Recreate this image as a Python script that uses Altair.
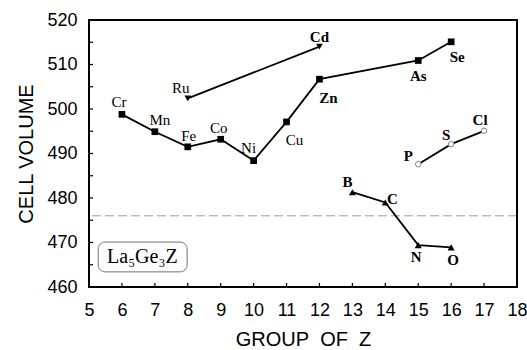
import altair as alt
import pandas as pd

# Cell volumes of La5Ge3Z phases, by periodic-table group of Z
elements = ["Cr", "Mn", "Fe", "Co", "Ni", "Cu", "Zn", "As", "Se",
            "Ru", "Cd",
            "P", "S", "Cl",
            "B", "C", "N", "O"]
groups = [6, 7, 8, 9, 10, 11, 12, 15, 16,
          8, 12,
          15, 16, 17,
          13, 14, 15, 16]
volumes = [498.8, 494.9, 491.5, 493.2, 488.4, 497.1, 506.7, 510.9, 515.1,
           502.4, 514.0,
           487.6, 492.1, 495.1,
           481.3, 479.0, 469.4, 468.9]
series = (["Cr-Se"] * 9 + ["Ru-Cd"] * 2 + ["P-Cl"] * 3 + ["B-O"] * 4)

# horizontal reference level
ref_volume = [476]

# axis tick positions
x_ticks = list(range(5, 19))
y_labels = list(range(460, 521, 10))
y_ticks = list(range(460, 521, 5))

# formula box (data units)
box_x = [5.28]
box_x2 = [7.98]
box_y = [463.4]
box_y2 = [470.1]
box_label = ["La\u2085Ge\u2083Z"]
box_text_x = [6.62]
box_text_y = [466.7]

df = pd.DataFrame({"element": elements, "group": groups,
                   "volume": volumes, "series": series})

W, H = 428, 267

x_scale = alt.Scale(domain=[5, 18], nice=False)
y_scale = alt.Scale(domain=[460, 520], nice=False, zero=False)

x_axis = alt.Axis(values=x_ticks, title="GROUP\u00a0 OF\u00a0 Z", ticks=False,
                  domain=False, grid=False, labelFontSize=18,
                  labelFont="Liberation Sans", labelColor="black",
                  labelPadding=14, titleFont="Liberation Sans",
                  titleFontSize=20, titleFontWeight="normal",
                  titleColor="black", titlePadding=10, labelFlush=False)
y_axis = alt.Axis(values=y_labels, title="CELL VOLUME", ticks=False,
                  domain=False, grid=False, labelFontSize=18,
                  labelFont="Liberation Sans", labelColor="black",
                  labelPadding=12, titleFont="Liberation Sans",
                  titleFontSize=20, titleFontWeight="normal",
                  titleColor="black", titlePadding=10, labelFlush=False)

X = alt.X("group:Q", scale=x_scale, axis=x_axis)
Y = alt.Y("volume:Q", scale=y_scale, axis=y_axis)

# label placement around each marker (pixel offsets) and weight
label_style = {
    "Cr": (-3, -12, "normal"), "Mn": (5, -12, "normal"), "Fe": (1, -11, "normal"),
    "Co": (-2, -11, "normal"), "Ni": (-5, -13, "normal"), "Cu": (8, 18, "normal"),
    "Ru": (-7, -10, "normal"), "Cd": (0, -10, "bold"), "Zn": (9, 19, "bold"),
    "As": (0, 16, "bold"), "Se": (6, 15, "bold"), "P": (-10, -8, "bold"),
    "S": (-5, -9, "bold"), "Cl": (-4, -11, "bold"), "B": (-5, -10, "bold"),
    "C": (7, -3, "bold"), "N": (-2, 12, "bold"), "O": (2, 13, "bold"),
}

base = alt.Chart(df)

# inward tick marks
x_tick_marks = alt.Chart(pd.DataFrame({"group": x_ticks})).mark_rule(
    color="black", strokeWidth=1.2).encode(x=X, y=alt.value(H), y2=alt.value(H - 4))
y_tick_marks = alt.Chart(pd.DataFrame({"volume": y_ticks})).mark_rule(
    color="black", strokeWidth=1.2).encode(y=Y, x=alt.value(0), x2=alt.value(4))

ref_line = alt.Chart(pd.DataFrame({"volume": ref_volume})).mark_rule(
    color="#9a9a9a", strokeWidth=1, strokeDash=[9, 4]).encode(y=Y)

lines = base.mark_line(color="black", strokeWidth=1.8).encode(
    x=X, y=Y, detail="series:N", order="group:Q")

squares = base.transform_filter(alt.datum.series == "Cr-Se").mark_point(
    shape="square", filled=True, color="black", size=45, opacity=1).encode(x=X, y=Y)
tri_down = base.transform_filter(alt.datum.series == "Ru-Cd").mark_point(
    shape="triangle-down", filled=True, color="black", size=45, opacity=1).encode(x=X, y=Y)
tri_up = base.transform_filter(alt.datum.series == "B-O").mark_point(
    shape="triangle-up", filled=True, color="black", size=50, opacity=1).encode(x=X, y=Y)
circles = base.transform_filter(alt.datum.series == "P-Cl").mark_point(
    shape="circle", filled=False, fill="white", fillOpacity=1, stroke="#808080",
    strokeWidth=1, size=30, opacity=1).encode(x=X, y=Y)

label_layers = []
for el, (dx, dy, weight) in label_style.items():
    label_layers.append(
        base.transform_filter(alt.datum.element == el).mark_text(
            font="Liberation Serif", fontSize=15, fontWeight=weight, color="black",
            align="center", baseline="middle", dx=dx, dy=dy).encode(
            x=X, y=Y, text="element:N"))

box_df = pd.DataFrame({"group": box_x, "group2": box_x2,
                       "volume": box_y, "volume2": box_y2})
box = alt.Chart(box_df).mark_rect(
    fill="white", stroke="#707070", strokeWidth=1, cornerRadius=7).encode(
    x=X, x2="group2:Q", y=Y, y2="volume2:Q")
box_text = alt.Chart(pd.DataFrame({"group": box_text_x, "volume": box_text_y,
                                   "t": box_label})).mark_text(
    font="Liberation Serif", fontSize=20, color="black", align="center",
    baseline="middle").encode(x=X, y=Y, text="t:N")

# plot frame
frame = alt.Chart(pd.DataFrame({"group": [5]})).mark_rect(
    fill=None, stroke="black", strokeWidth=2).encode(
    x=alt.value(0), x2=alt.value(W), y=alt.value(0), y2=alt.value(H))

chart = alt.layer(
    ref_line, x_tick_marks, y_tick_marks, box, box_text,
    lines, squares, tri_down, tri_up, circles, *label_layers, frame
).properties(
    width=W, height=H,
    autosize=alt.AutoSizeParams(type="none"),
    padding={"left": 89, "top": 20, "right": 10, "bottom": 63},
).configure(background="white").configure_view(stroke=None)

chart.save("out.html", embed_options={"renderer": "svg", "actions": False})
